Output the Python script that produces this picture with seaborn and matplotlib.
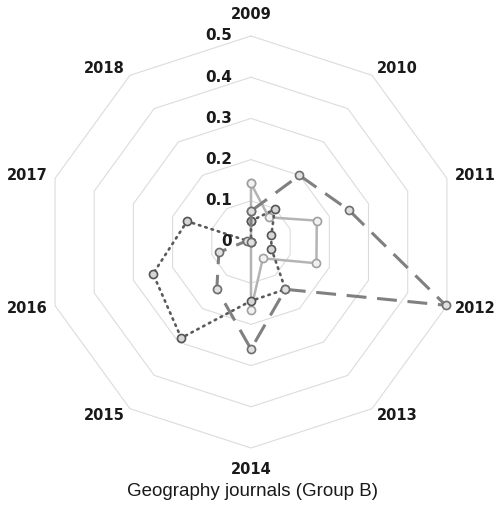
import numpy as np
import pandas as pd
import matplotlib
matplotlib.use("Agg")
import matplotlib.pyplot as plt
import seaborn as sns

years = ["2009", "2010", "2011", "2012", "2013", "2014", "2015", "2016", "2017", "2018"]
ring_levels = [0.1, 0.2, 0.3, 0.4, 0.5]
tick_labels = ["0", "0.1", "0.2", "0.3", "0.4", "0.5"]

# values
dashed_vals = [0.075, 0.200, 0.250, 0.497, 0.142, 0.260, 0.141, 0.082, 0.010, 0.000]
dotted_vals = [0.051, 0.098, 0.052, 0.052, 0.142, 0.143, 0.288, 0.250, 0.163, 0.000]
solid_vals = [0.142, 0.074, 0.168, 0.167, 0.049, 0.164, 0.000, 0.000, 0.000, 0.000]

sns.set_theme(style="white")
plt.rcParams['font.family'] = ['DejaVu Sans']

n = len(years)
theta = np.linspace(0, 2 * np.pi, n, endpoint=False)
theta_closed = np.append(theta, 2 * np.pi)

fig = plt.figure(figsize=(5.02, 5.07), dpi=100)
ax = fig.add_axes([0.0896, 0.1164, 0.8207, 0.8126], projection='polar')
ax.set_theta_zero_location('N')
ax.set_theta_direction(-1)
ax.set_ylim(0, 0.5)
ax.grid(False)
ax.spines['polar'].set_visible(False)
ax.set_xticks([])
ax.set_yticks([])
ax.patch.set_alpha(0)

# decagon rings
for lev in ring_levels:
    ax.plot(theta_closed, [lev] * (n + 1), color='#dcdcdc', lw=0.8, zorder=1, clip_on=False)


def series_frame(vals):
    return pd.DataFrame({'theta': theta_closed, 'value': list(vals) + [vals[0]]})


styles = [
    (solid_vals, dict(color='#b4b4b4', lw=1.8, linestyle='-'),
     dict(markerfacecolor='#f2f2f2', markeredgecolor='#a0a0a0')),
    (dotted_vals, dict(color='#5a5a5a', lw=1.9, linestyle=(0, (0.6, 1.9)), dash_capstyle='round'),
     dict(markerfacecolor='#d6d6d6', markeredgecolor='#555555')),
    (dashed_vals, dict(color='#808080', lw=2.2, linestyle=(0, (6.5, 3.5))),
     dict(markerfacecolor='#e0e0e0', markeredgecolor='#6e6e6e')),
]

for vals, line_kw, mk_kw in styles:
    d = series_frame(vals)
    sns.lineplot(data=d, x='theta', y='value', ax=ax, sort=False, estimator=None,
                 marker='o', markersize=5.8, markeredgewidth=1.2, zorder=3,
                 clip_on=False, **line_kw, **mk_kw)

ax.set_xlabel('')
ax.set_ylabel('')

# category labels
for t, lab in zip(theta, years):
    s = np.sin(t)
    c = np.cos(t)
    if abs(s) < 0.1:
        ha = 'center'
        va = 'bottom' if c > 0 else 'top'
        r = 0.535
    else:
        ha = 'left' if s > 0 else 'right'
        va = 'center'
        r = 0.52
    ax.text(t, r, lab, ha=ha, va=va, fontsize=10.5, fontweight='bold',
            color='#1a1a1a', clip_on=False)

# radial value labels along the first axis
for lev, lab in zip([0] + ring_levels, tick_labels):
    ax.annotate(lab, xy=(0, lev), xytext=(-13.5, 0), textcoords='offset points',
                ha='right', va='center', fontsize=11, fontweight='bold',
                color='#1a1a1a', annotation_clip=False)

fig.text(0.502, 0.022, 'Geography journals (Group B)', ha='center', va='baseline',
         fontsize=13.5, family='Liberation Sans', color='#1a1a1a')

fig.savefig('out.png', dpi=100)
